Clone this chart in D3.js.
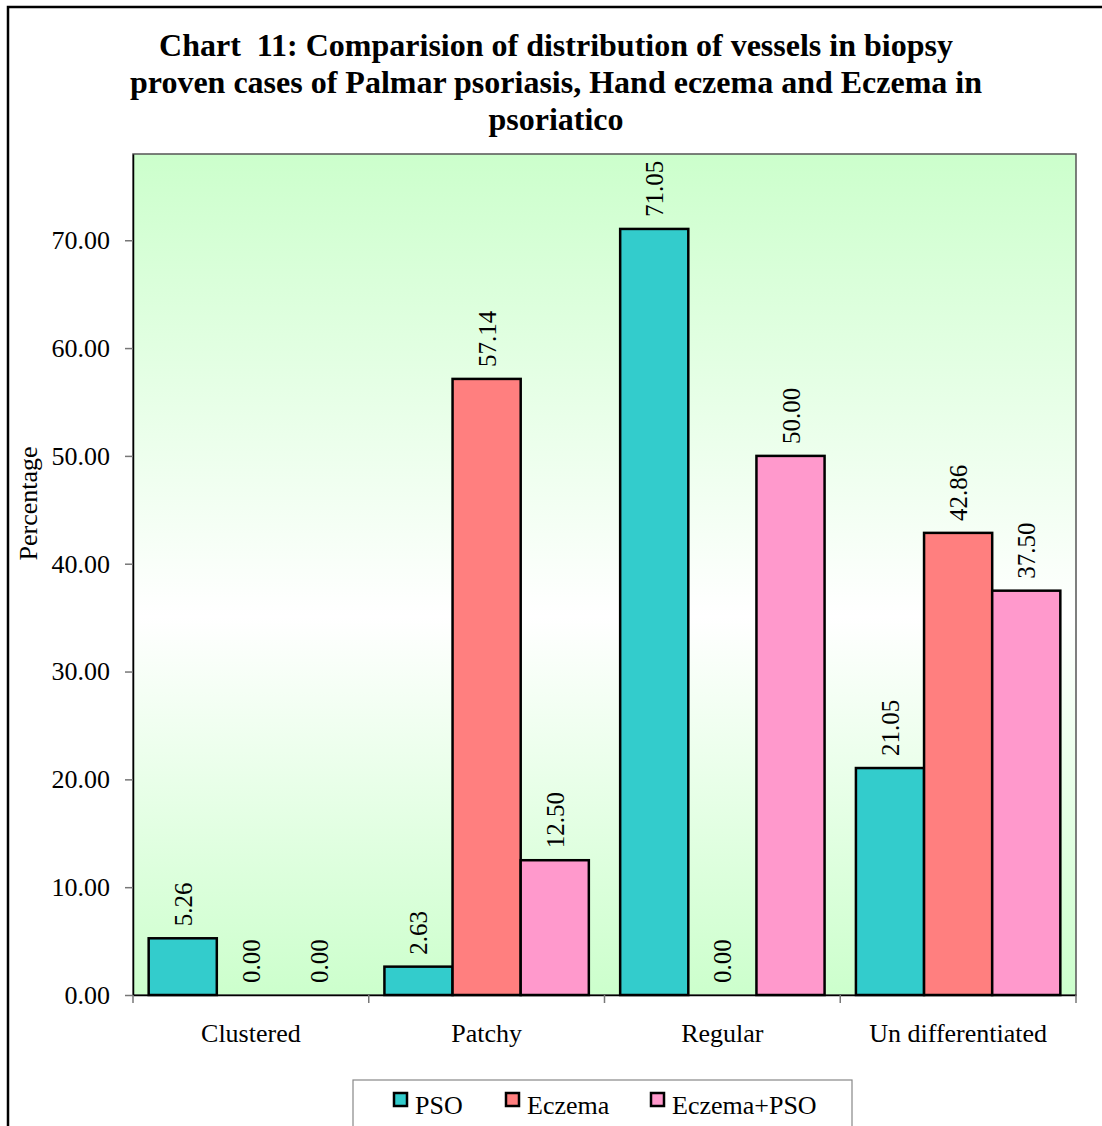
<!DOCTYPE html>
<html>
<head>
<meta charset="utf-8">
<script src="https://cdn.jsdelivr.net/npm/d3@7.9.0/dist/d3.min.js"></script>
<style>
  html, body { margin: 0; padding: 0; background: #fff; }
  svg { display: block; font-family: 'Liberation Serif', 'Times New Roman', serif; }
  svg text { white-space: pre; }
</style>
</head>
<body>
<div id="chart"></div>
<script>
const categories = ['Clustered', 'Patchy', 'Regular', 'Un differentiated'];
const seriesNames = ['PSO', 'Eczema', 'Eczema+PSO'];
const pso = [5.26, 2.63, 71.05, 21.05];
const eczema = [0.00, 57.14, 0.00, 42.86];
const eczemaPso = [0.00, 12.50, 50.00, 37.50];
const yTicks = [0, 10, 20, 30, 40, 50, 60, 70];
const colors = ['#33CCCC', '#FF7F7F', '#FF99CC'];
const titleLines = [
  'Chart  11: Comparision of distribution of vessels in biopsy',
  'proven cases of Palmar psoriasis, Hand eczema and Eczema in',
  'psoriatico'
];

const width = 1102;
const height = 1126;
const plot = { left: 133, top: 154, right: 1076, bottom: 995 };
const fontFamily = "'Liberation Serif', 'Times New Roman', serif";

const svg = d3.select('#chart')
  .append('svg')
  .attr('width', width)
  .attr('height', height);

// gradient background of plot area
const defs = svg.append('defs');
const grad = defs.append('linearGradient')
  .attr('id', 'bg')
  .attr('x1', 0).attr('y1', 0).attr('x2', 0).attr('y2', 1);
grad.append('stop').attr('offset', '0%').attr('stop-color', '#ccffcc');
grad.append('stop').attr('offset', '55%').attr('stop-color', '#ffffff');
grad.append('stop').attr('offset', '100%').attr('stop-color', '#ccffcc');

// outer frame
svg.append('rect')
  .attr('x', 8).attr('y', 7)
  .attr('width', 1110).attr('height', 1130)
  .attr('fill', '#fff')
  .attr('stroke', '#000')
  .attr('stroke-width', 2.5);

const x0 = d3.scaleBand()
  .domain(categories)
  .range([plot.left, plot.right]);

const x1 = d3.scaleBand()
  .domain(seriesNames)
  .range([0, x0.bandwidth()])
  .paddingOuter(0.23);

const y = d3.scaleLinear()
  .domain([0, 78])
  .range([plot.bottom, plot.top]);

svg.append('rect')
  .attr('x', plot.left).attr('y', plot.top)
  .attr('width', plot.right - plot.left)
  .attr('height', plot.bottom - plot.top)
  .attr('fill', 'url(#bg)')
  .attr('stroke', '#555')
  .attr('stroke-width', 1.5);

// title
svg.append('g')
  .selectAll('text')
  .data(titleLines)
  .join('text')
  .attr('x', 556)
  .attr('y', (d, i) => 56 + i * 37)
  .attr('text-anchor', 'middle')
  .attr('font-weight', 'bold')
  .attr('font-size', 32)
  .text((d) => d);

// y axis
const yAxis = svg.append('g')
  .attr('transform', `translate(${plot.left},0)`)
  .call(d3.axisLeft(y).tickValues(yTicks).tickFormat(d3.format('.2f'))
    .tickSize(8).tickSizeOuter(0).tickPadding(15));
yAxis.select('.domain').attr('stroke', '#000').attr('stroke-width', 1.5);
yAxis.selectAll('.tick line').attr('stroke', '#777').attr('stroke-width', 1.5);
yAxis.selectAll('text')
  .attr('font-size', 26)
  .attr('font-family', fontFamily)
  .attr('fill', '#000');

// x axis
const xAxis = svg.append('g')
  .attr('transform', `translate(0,${plot.bottom})`)
  .call(d3.axisBottom(x0).tickSize(0).tickPadding(29));
xAxis.select('.domain').attr('stroke', '#000').attr('stroke-width', 1.5);
xAxis.selectAll('text')
  .attr('font-size', 26)
  .attr('font-family', fontFamily)
  .attr('fill', '#000');

// category separator ticks
svg.append('g')
  .selectAll('line')
  .data(categories.concat(['end']))
  .join('line')
  .attr('x1', (d, i) => i < categories.length ? x0(d) : plot.right)
  .attr('x2', (d, i) => i < categories.length ? x0(d) : plot.right)
  .attr('y1', plot.bottom)
  .attr('y2', plot.bottom + 8)
  .attr('stroke', '#777')
  .attr('stroke-width', 1.5);

// y label
svg.append('text')
  .attr('transform', `translate(37, ${(plot.top + plot.bottom) / 2 - 71}) rotate(-90)`)
  .attr('text-anchor', 'middle')
  .attr('font-size', 26)
  .text('Percentage');

// bars
const allSeries = [pso, eczema, eczemaPso];
const rows = categories.map((c, i) => ({
  category: c,
  values: seriesNames.map((s, j) => ({ series: s, idx: j, value: allSeries[j][i] }))
}));

const groups = svg.append('g')
  .selectAll('g')
  .data(rows)
  .join('g')
  .attr('transform', (d) => `translate(${x0(d.category)},0)`);

groups.selectAll('rect')
  .data((d) => d.values.filter((v) => v.value > 0))
  .join('rect')
  .attr('x', (d) => x1(d.series))
  .attr('y', (d) => y(d.value))
  .attr('width', x1.bandwidth())
  .attr('height', (d) => y(0) - y(d.value))
  .attr('fill', (d) => colors[d.idx])
  .attr('stroke', '#000')
  .attr('stroke-width', 2.5);

groups.selectAll('text')
  .data((d) => d.values)
  .join('text')
  .attr('transform', (d) => `translate(${x1(d.series) + x1.bandwidth() / 2 + 9}, ${y(d.value) - 12}) rotate(-90)`)
  .attr('font-size', 25)
  .text((d) => d3.format('.2f')(d.value));

// legend
const legend = svg.append('g').attr('transform', 'translate(353,1080)');
legend.append('rect')
  .attr('width', 499).attr('height', 60)
  .attr('fill', '#fff')
  .attr('stroke', '#888')
  .attr('stroke-width', 1.2);

const legendX = [41, 153, 298];
const items = legend.selectAll('g')
  .data(seriesNames)
  .join('g')
  .attr('transform', (d, i) => `translate(${legendX[i]},13)`);
items.append('rect')
  .attr('width', 13).attr('height', 13)
  .attr('fill', (d, i) => colors[i])
  .attr('stroke', '#000')
  .attr('stroke-width', 2.5);
items.append('text')
  .attr('x', 21).attr('y', 21)
  .attr('font-size', 26)
  .text((d) => d);
</script>
</body>
</html>
